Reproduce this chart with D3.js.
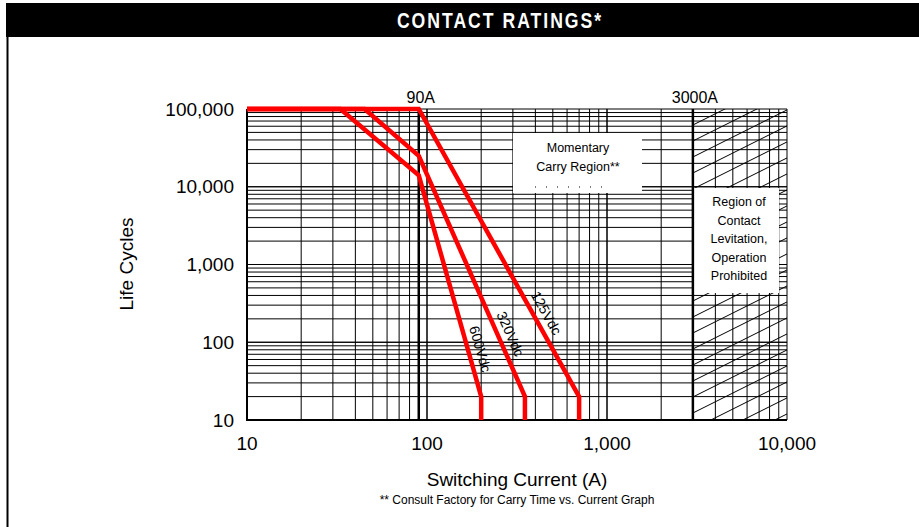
<!DOCTYPE html>
<html>
<head>
<meta charset="utf-8">
<script src="https://cdn.jsdelivr.net/npm/d3@7"></script>
<style>
  body { margin: 0; background: #fff; }
  svg { display: block; font-family: "Liberation Sans", Arial, sans-serif; }
</style>
</head>
<body>
<div id="chart"></div>
<script>
// chart size
var chart_width = 919;
var chart_height = 527;

// data
var title = "CONTACT RATINGS*";
var xTicks = [10, 100, 1000, 10000];
var xTickLabels = ["10", "100", "1,000", "10,000"];
var yTicks = [10, 100, 1000, 10000, 100000];
var yTickLabels = ["10", "100", "1,000", "10,000", "100,000"];
var seriesNames = ["125Vdc", "320Vdc", "600Vdc"];
var current125 = [10, 90, 700, 700];
var cycles125 = [100000, 100000, 20, 10];
var current320 = [10, 45, 90, 350, 350];
var cycles320 = [100000, 100000, 25000, 20, 10];
var current600 = [10, 33, 90, 200, 200];
var cycles600 = [100000, 100000, 14000, 20, 10];
var markerCurrents = [90, 3000];
var markerLabels = ["90A", "3000A"];
var levitationText = ["Region of", "Contact", "Levitation,", "Operation", "Prohibited"];
var carryText = ["Momentary", "Carry Region**"];

var series = [
  {name: seriesNames[0], x: current125, y: cycles125, seg: 1, t: 0.73},
  {name: seriesNames[1], x: current320, y: cycles320, seg: 2, t: 0.76},
  {name: seriesNames[2], x: current600, y: cycles600, seg: 2, t: 0.80}
];

var plot = {left: 247, right: 787, top: 109, bottom: 420};

var x = d3.scaleLog().domain([10, 10000]).range([plot.left, plot.right]);
var y = d3.scaleLog().domain([10, 100000]).range([plot.bottom, plot.top]);

var svg = d3.select('#chart')
            .append('svg')
            .attr('width', chart_width)
            .attr('height', chart_height);

// title bar + frame
svg.append('rect')
   .attr('x', 6).attr('y', 3)
   .attr('width', chart_width - 6).attr('height', 34)
   .attr('fill', '#000');
svg.append('line')
   .attr('x1', 7.5).attr('x2', 7.5)
   .attr('y1', 37).attr('y2', chart_height)
   .attr('stroke', '#000').attr('stroke-width', 2);
// condensed bold title (no narrow font available, so squeeze it)
svg.append('text')
   .attr('transform', 'translate(500,28) scale(0.8,1)')
   .attr('text-anchor', 'middle')
   .attr('fill', '#fff')
   .style('font-weight', 'bold')
   .style('font-size', '22px')
   .style('letter-spacing', '2.5px')
   .text(title);

// grid
var g = svg.append('g');
var minorX = [];
for (var d = 10; d < 10000; d *= 10) {
  for (var m = 1; m <= 10; m++) minorX.push(d * m);
}
var minorY = [];
for (var e = 10; e < 100000; e *= 10) {
  for (var n = 1; n <= 10; n++) minorY.push(e * n);
}

g.selectAll('.vgrid')
 .data(minorX)
 .enter()
 .append('line')
 .attr('x1', function(d){ return x(d); })
 .attr('x2', function(d){ return x(d); })
 .attr('y1', plot.top)
 .attr('y2', plot.bottom)
 .attr('stroke', '#000')
 .attr('stroke-width', 1);

g.selectAll('.hgrid')
 .data(minorY)
 .enter()
 .append('line')
 .attr('x1', plot.left)
 .attr('x2', plot.right)
 .attr('y1', function(d){ return y(d); })
 .attr('y2', function(d){ return y(d); })
 .attr('stroke', '#000')
 .attr('stroke-width', 1);

// hatch in levitation region
var hx0 = x(3000), hx1 = x(10000);
svg.append('clipPath').attr('id', 'hatchclip')
   .append('rect')
   .attr('x', hx0).attr('y', plot.top)
   .attr('width', hx1 - hx0).attr('height', plot.bottom - plot.top);
var hatch = [];
for (var k = -4; k < 30; k++) hatch.push(k);
svg.append('g').attr('clip-path', 'url(#hatchclip)')
   .selectAll('line')
   .data(hatch)
   .enter()
   .append('line')
   .attr('x1', hx0)
   .attr('x2', hx1)
   .attr('y1', function(k){ return plot.top + k * 16; })
   .attr('y2', function(k){ return plot.top + k * 16 - 0.5 * (hx1 - hx0); })
   .attr('stroke', '#000')
   .attr('stroke-width', 1);

// plot frame
svg.append('line')
   .attr('x1', plot.left).attr('x2', plot.left)
   .attr('y1', plot.top).attr('y2', plot.bottom + 1)
   .attr('stroke', '#000').attr('stroke-width', 2);
svg.append('line')
   .attr('x1', plot.left).attr('x2', plot.right)
   .attr('y1', plot.bottom).attr('y2', plot.bottom)
   .attr('stroke', '#000').attr('stroke-width', 2);

// white boxes
var carryBox = svg.append('g');
carryBox.append('rect')
   .attr('x', 513).attr('y', 133)
   .attr('width', 129).attr('height', 60)
   .attr('fill', '#fff');
carryBox.append('line')
   .attr('x1', 535).attr('x2', 610)
   .attr('y1', 187).attr('y2', 187)
   .attr('stroke', '#000').attr('stroke-width', 1)
   .attr('stroke-dasharray', '1,10');
carryBox.selectAll('text')
   .data(carryText)
   .enter()
   .append('text')
   .attr('x', 578)
   .attr('y', function(d, i){ return 152 + i * 19; })
   .attr('text-anchor', 'middle')
   .style('font-size', '12.5px')
   .text(function(d){ return d; });

var levBox = svg.append('g');
levBox.append('rect')
   .attr('x', x(3000) + 1).attr('y', 188)
   .attr('width', 779 - x(3000) - 1).attr('height', 105)
   .attr('fill', '#fff');
levBox.selectAll('text')
   .data(levitationText)
   .enter()
   .append('text')
   .attr('x', 739)
   .attr('y', function(d, i){ return 206 + i * 18.5; })
   .attr('text-anchor', 'middle')
   .style('font-size', '12.5px')
   .text(function(d){ return d; });

// marker lines at 90A and 3000A
svg.selectAll('.marker')
   .data(markerCurrents)
   .enter()
   .append('line')
   .attr('x1', function(d){ return x(d); })
   .attr('x2', function(d){ return x(d); })
   .attr('y1', plot.top)
   .attr('y2', plot.bottom)
   .attr('stroke', '#000')
   .attr('stroke-width', 2.5);
svg.selectAll('.markerlabel')
   .data(markerCurrents)
   .enter()
   .append('text')
   .attr('x', function(d){ return x(d) + 2; })
   .attr('y', 103)
   .attr('text-anchor', 'middle')
   .style('font-size', '16px')
   .text(function(d, i){ return markerLabels[i]; });

// red curves
var line = d3.line()
             .x(function(d){ return x(d[0]); })
             .y(function(d){ return y(d[1]); });

svg.selectAll('.curve')
   .data(series)
   .enter()
   .append('path')
   .attr('d', function(s){ return line(d3.zip(s.x, s.y)); })
   .attr('fill', 'none')
   .attr('stroke', '#ff0000')
   .attr('stroke-width', 4.5)
   .attr('stroke-linejoin', 'miter');

// rotated curve labels along the falling segment
svg.selectAll('.curvelabel')
   .data(series)
   .enter()
   .append('text')
   .attr('transform', function(s){
       var x0 = x(s.x[s.seg]), y0 = y(s.y[s.seg]);
       var x1 = x(s.x[s.seg + 1]), y1 = y(s.y[s.seg + 1]);
       var a = Math.atan2(y1 - y0, x1 - x0);
       var px = x0 + (x1 - x0) * s.t + Math.sin(a) * 12;
       var py = y0 + (y1 - y0) * s.t - Math.cos(a) * 12;
       return 'translate(' + px + ',' + py + ') rotate(' + (a * 180 / Math.PI) + ')';
   })
   .attr('text-anchor', 'middle')
   .attr('dy', '0.35em')
   .style('font-size', '14px')
   .text(function(s){ return s.name; });

// axis tick labels
svg.selectAll('.ylabel')
   .data(yTicks)
   .enter()
   .append('text')
   .attr('x', 234)
   .attr('y', function(d){ return y(d); })
   .attr('dy', '0.35em')
   .attr('text-anchor', 'end')
   .style('font-size', '19px')
   .text(function(d, i){ return yTickLabels[i]; });

svg.selectAll('.xlabel')
   .data(xTicks)
   .enter()
   .append('text')
   .attr('x', function(d){ return x(d); })
   .attr('y', 450)
   .attr('text-anchor', 'middle')
   .style('font-size', '19px')
   .text(function(d, i){ return xTickLabels[i]; });

// axis titles
svg.append('text')
   .attr('x', 517).attr('y', 486)
   .attr('text-anchor', 'middle')
   .style('font-size', '19px')
   .text('Switching Current (A)');
svg.append('text')
   .attr('x', 517).attr('y', 504)
   .attr('text-anchor', 'middle')
   .style('font-size', '12px')
   .text('** Consult Factory for Carry Time vs. Current Graph');
svg.append('text')
   .attr('transform', 'translate(133,264) rotate(-90)')
   .attr('text-anchor', 'middle')
   .style('font-size', '19px')
   .text('Life Cycles');
</script>
</body>
</html>
